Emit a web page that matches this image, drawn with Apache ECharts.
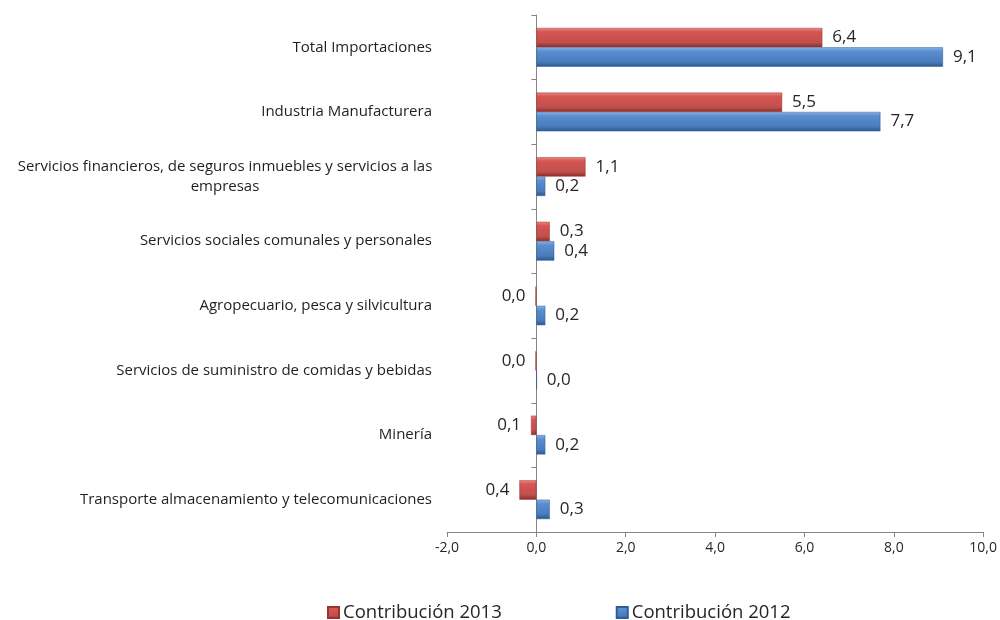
<!DOCTYPE html>
<html>
<head>
<meta charset="utf-8">
<script src="https://cdn.jsdelivr.net/npm/echarts@6/dist/echarts.min.js"></script>
<style>
  html, body { margin: 0; padding: 0; background: #fff; }
  #main { width: 1000px; height: 620px; }
</style>
</head>
<body>
<div id="main"></div>
<script>
// categorias (de arriba hacia abajo)
var categorias = [
  'Total Importaciones',
  'Industria Manufacturera',
  'Servicios financieros, de seguros inmuebles y servicios a las\nempresas',
  'Servicios sociales comunales y personales',
  'Agropecuario, pesca y silvicultura',
  'Servicios de suministro de comidas y bebidas',
  'Minería',
  'Transporte almacenamiento y telecomunicaciones'
];
var contrib2013 = [6.4, 5.5, 1.1, 0.3, -0.02, -0.02, -0.12, -0.38];
var contrib2012 = [9.1, 7.7, 0.2, 0.4, 0.2, 0.01, 0.2, 0.3];
var ejeX = [-2, 0, 2, 4, 6, 8, 10];

function coma(v) {
  return Math.abs(v).toFixed(1).replace('.', ',');
}

var fuente = 'Open Sans';

function barras(valores) {
  return valores.map(function (v) {
    return { value: v, label: { position: v < 0 ? 'left' : 'right' } };
  });
}

var rojo = new echarts.graphic.LinearGradient(0, 0, 0, 1, [
  { offset: 0, color: '#e88a87' },
  { offset: 0.2, color: '#d65551' },
  { offset: 0.75, color: '#c0504d' },
  { offset: 1, color: '#8c2b28' }
]);
var azul = new echarts.graphic.LinearGradient(0, 0, 0, 1, [
  { offset: 0, color: '#8db4e6' },
  { offset: 0.2, color: '#5a8fd0' },
  { offset: 0.75, color: '#4a7cbd' },
  { offset: 1, color: '#2b568a' }
]);

var myChart = echarts.init(document.getElementById('main'));

var option = {
  backgroundColor: '#fff',
  animation: false,
  grid: { left: 447, right: 13, top: 15, bottom: 88 },
  legend: {
    left: 322,
    top: 598,
    icon: 'rect',
    itemWidth: 11,
    itemHeight: 11,
    itemGap: 114,
    textStyle: { fontFamily: fuente, fontSize: 18.5, color: '#262626', padding: [0, 0, 0, -1] },
    data: ['Contribución 2013', 'Contribución 2012']
  },
  xAxis: {
    type: 'value',
    min: ejeX[0],
    max: ejeX[ejeX.length - 1],
    interval: 2,
    splitLine: { show: false },
    axisLine: { show: true, onZero: false, lineStyle: { color: '#868686' } },
    axisTick: { show: true, length: 5, lineStyle: { color: '#868686' } },
    axisLabel: {
      fontFamily: fuente, fontSize: 14, color: '#262626', margin: 9,
      formatter: function (v) { return v.toFixed(1).replace('.', ','); }
    }
  },
  yAxis: [{
    type: 'category',
    position: 'left',
    inverse: true,
    data: categorias,
    axisLine: { show: false, onZero: false },
    axisTick: { show: false },
    axisLabel: {
      margin: 15,
      fontFamily: fuente, fontSize: 15, color: '#1f1f1f', lineHeight: 20,
      formatter: function (v) {
        if (v.indexOf('\n') >= 0) return '{c|' + v + '}';
        return v;
      },
      rich: {
        c: { fontFamily: fuente, fontSize: 15, color: '#1f1f1f', lineHeight: 20, width: 414, align: 'center' }
      }
    }
  }, {
    // linea del cero con marcas de categoria
    type: 'category',
    position: 'left',
    inverse: true,
    data: categorias,
    axisLine: { show: true, onZero: true, lineStyle: { color: '#868686' } },
    axisTick: { show: true, length: 5, lineStyle: { color: '#868686' } },
    axisLabel: { show: false }
  }],
  series: [{
    name: 'Contribución 2013',
    type: 'bar',
    barGap: 0,
    barCategoryGap: '40%',
    data: barras(contrib2013),
    itemStyle: { color: rojo, borderColor: '#9b3431', borderWidth: 0.5 },
    label: {
      show: true, distance: 10,
      fontFamily: fuente, fontSize: 17, color: '#262626',
      formatter: function (p) { return coma(p.value); }
    }
  }, {
    name: 'Contribución 2012',
    type: 'bar',
    data: barras(contrib2012),
    itemStyle: { color: azul, borderColor: '#2f5e94', borderWidth: 0.5 },
    label: {
      show: true, distance: 10,
      fontFamily: fuente, fontSize: 17, color: '#262626',
      formatter: function (p) { return coma(p.value); }
    }
  }]
};

myChart.setOption(option);
</script>
</body>
</html>
